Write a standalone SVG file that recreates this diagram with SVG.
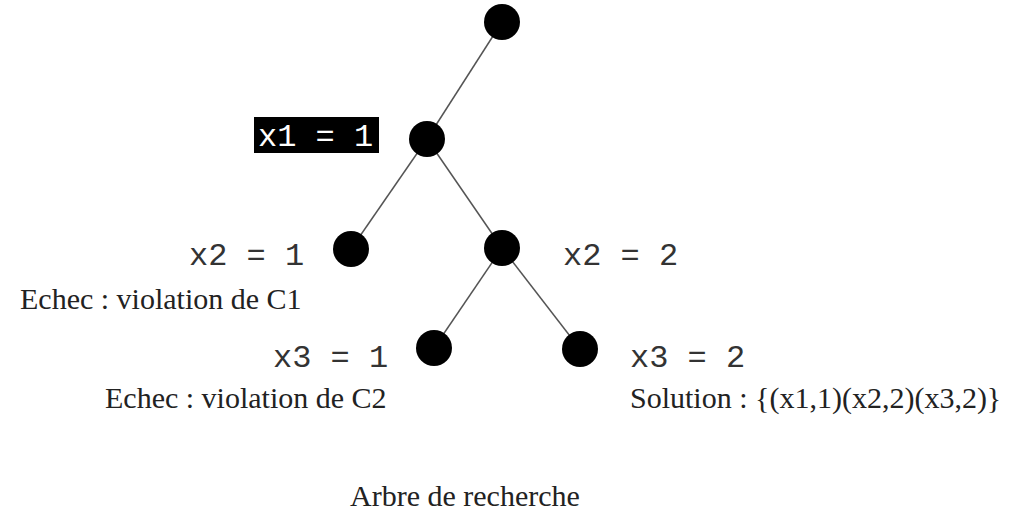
<svg xmlns="http://www.w3.org/2000/svg" width="1021" height="513" viewBox="0 0 1021 513">
<style>
.node{fill:#000}
.edge{stroke:#555;stroke-width:1.5;fill:none}
.mono{font-family:"Liberation Mono","Courier New",monospace;font-size:32px;fill:#333}
.serif{font-family:"Liberation Serif","Times New Roman",serif;font-size:30px;fill:#222}
</style>
<rect width="1021" height="513" fill="#fff"/>
<g id="connectors">
<line class="edge" x1="502" y1="22" x2="427" y2="139"/>
<line class="edge" x1="427" y1="139" x2="351" y2="249"/>
<line class="edge" x1="427" y1="139" x2="502" y2="248"/>
<line class="edge" x1="502" y1="248" x2="434" y2="348"/>
<line class="edge" x1="502" y1="248" x2="580" y2="349"/>
</g>
<g id="root"><circle class="node" cx="502" cy="22" r="18"/></g>
<g id="n-x1-1">
<circle class="node" cx="427" cy="139" r="18"/>
<rect x="254" y="117" width="125" height="36" fill="#000"/>
<text x="258" y="146" class="mono" style="fill:#fff">x1 = 1</text>
</g>
<g id="n-x2-1">
<circle class="node" cx="351" cy="249" r="18"/>
<text x="189" y="265" class="mono">x2 = 1</text>
<text x="20" y="309" class="serif">Echec : violation de C1</text>
</g>
<g id="n-x2-2">
<circle class="node" cx="502" cy="248" r="18"/>
<text x="563" y="265" class="mono">x2 = 2</text>
</g>
<g id="n-x3-1">
<circle class="node" cx="434" cy="348" r="18"/>
<text x="273" y="367" class="mono">x3 = 1</text>
<text x="105" y="408" class="serif">Echec : violation de C2</text>
</g>
<g id="n-x3-2">
<circle class="node" cx="580" cy="349" r="18"/>
<text x="630" y="367" class="mono">x3 = 2</text>
<text x="630" y="408" class="serif">Solution : {(x1,1)(x2,2)(x3,2)}</text>
</g>
<g id="caption">
<text x="350" y="506" class="serif">Arbre de recherche</text>
</g>
</svg>
